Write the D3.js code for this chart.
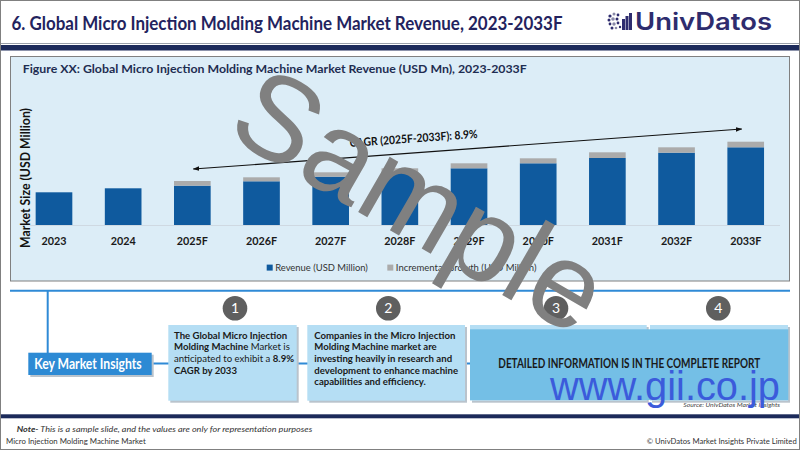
<!DOCTYPE html>
<html>
<head>
<meta charset="utf-8">
<script src="https://cdn.jsdelivr.net/npm/d3@7"></script>
<style>
  html, body { margin: 0; padding: 0; background: #ffffff; }
  svg { display: block; }
</style>
</head>
<body>
<svg id="chart" width="800" height="450" font-family="Lato, 'Open Sans', sans-serif"></svg>
<script>
// ---------------- data ----------------
const categories = ["2023", "2024", "2025F", "2026F", "2027F", "2028F", "2029F", "2030F", "2031F", "2032F", "2033F"];
const revenue = [32.7, 36.7, 39.3, 43.7, 48.3, 52.5, 56.7, 61.7, 67.0, 72.3, 77.7];
const increment = [0, 0, 4.7, 4.0, 4.4, 4.2, 5.0, 5.0, 5.7, 5.4, 5.6];
const seriesNames = ["Revenue (USD Million)", "Incremental Growth (USD Million)"];
const cagrLabel = "CAGR (2025F-2033F): 8.9%";
const cagrFrom = "2025F", cagrTo = "2033F";
const headerTitle = "6. Global Micro Injection Molding Machine Market Revenue, 2023-2033F";
const figureTitle = "Figure XX: Global Micro Injection Molding Machine Market Revenue (USD Mn), 2023-2033F";
const yAxisTitle = "Market Size (USD Million)";
const insightNumbers = ["1", "2", "3", "4"];

// ---------------- setup ----------------
const svg = d3.select("#chart");
const navy = "#1c2a5a";
const blue = "#0f5a9e";
const grey = "#ababab";
const lineBlue = "#2f8ad6";
const wmFont = "'Liberation Sans', Arial, sans-serif";

svg.append("rect").attr("x", 0).attr("y", 0).attr("width", 800).attr("height", 450).attr("fill", "#fff");

// header
svg.append("text").attr("x", 11.5).attr("y", 30).attr("font-size", 19).attr("font-weight", 700)
  .attr("fill", "#23235e").attr("textLength", 551).attr("lengthAdjust", "spacingAndGlyphs").text(headerTitle);

// logo
const logo = svg.append("g").attr("transform", "translate(607,12)");
const dots = [[3,4,1.6],[7,2,1.5],[11,3,1.4],[2,8,1.5],[6,7,1.8],[10,7,1.5],[3,12,1.4],[7,12,1.7],[11,11,1.4],[5,16,1.5],[9,16,1.3],[13,15,1.2]];
logo.selectAll("circle").data(dots).join("circle")
  .attr("cx", d => d[0]).attr("cy", d => d[1]).attr("r", d => d[2])
  .attr("fill", (d, i) => i % 3 === 1 ? "#8a8aa8" : "#2e2c6e");
const bars = [[15,7,3,11],[18.5,4,3,14],[22,1,3,17]];
logo.selectAll("rect").data(bars).join("rect")
  .attr("x", d => d[0]).attr("y", d => d[1]).attr("width", d => d[2]).attr("height", d => d[3]).attr("fill", "#2e2c6e");
svg.append("text").attr("x", 635).attr("y", 30).attr("font-family", "Inter, Roboto, sans-serif")
  .attr("font-size", 24).attr("font-weight", 600).attr("fill", "#2e2c6e")
  .attr("textLength", 137).attr("lengthAdjust", "spacingAndGlyphs").text("UnivDatos");

// header separator and navy band
svg.append("line").attr("x1", 0).attr("x2", 800).attr("y1", 43.5).attr("y2", 43.5).attr("stroke", "#9aa0aa").attr("stroke-width", 1);
svg.append("rect").attr("x", 0).attr("y", 45).attr("width", 800).attr("height", 5.5).attr("fill", navy);

// chart panel
svg.append("rect").attr("x", 10.5).attr("y", 56.5).attr("width", 779).attr("height", 224.5)
  .attr("fill", "#dcedf7").attr("stroke", "#808080").attr("stroke-width", 1);
svg.append("text").attr("x", 22.7).attr("y", 72.7).attr("font-size", 11.5).attr("font-weight", 700)
  .attr("fill", "#1f2d52").attr("textLength", 504).attr("lengthAdjust", "spacingAndGlyphs").text(figureTitle);

// scales
const x = d3.scaleBand().domain(categories).range([19.4, 780.3]).paddingInner(0.47).paddingOuter(0.235);
const y = d3.scaleLinear().domain([0, 100]).range([225, 125]);

const rows = categories.map((c, i) => ({ cat: c, revenue: revenue[i], increment: increment[i] }));
const stack = d3.stack().keys(["revenue", "increment"]);
const layers = stack(rows);
const colors = [blue, grey];

const plot = svg.append("g");
plot.append("line").attr("x1", 30).attr("x2", 780).attr("y1", y(0) + 0.5).attr("y2", y(0) + 0.5)
  .attr("stroke", "#cfd9e2").attr("stroke-width", 1);

plot.selectAll("g.layer").data(layers).join("g").attr("class", "layer")
  .attr("fill", (d, i) => colors[i])
  .selectAll("rect").data(d => d).join("rect")
  .attr("x", d => x(d.data.cat))
  .attr("y", d => y(d[1]))
  .attr("width", x.bandwidth())
  .attr("height", d => Math.max(0, y(d[0]) - y(d[1])));

// x axis labels
const xAxis = d3.axisBottom(x).tickSize(0).tickPadding(0);
const xg = plot.append("g").attr("transform", `translate(0,${y(0)})`).call(xAxis);
xg.select(".domain").remove();
xg.attr("font-family", null).attr("font-size", null);
xg.selectAll("text").attr("font-size", 10.8).attr("font-weight", 700)
  .attr("fill", "#1a1a1a").attr("dy", null).attr("y", 20);

// y axis title
svg.append("text").attr("transform", "translate(29.5,178) rotate(-90)").attr("text-anchor", "middle")
  .attr("font-size", 13).attr("font-weight", 700).attr("fill", "#111")
  .attr("textLength", 140).attr("lengthAdjust", "spacingAndGlyphs").text(yAxisTitle);

// legend
const legendPos = [[266.7, 92.7], [387.3, 140.7]];
const lg = svg.append("g");
seriesNames.forEach((name, i) => {
  lg.append("rect").attr("x", legendPos[i][0]).attr("y", 264.6).attr("width", 6).attr("height", 6).attr("fill", colors[i]);
  lg.append("text").attr("x", legendPos[i][0] + 8.5).attr("y", 271.3).attr("font-size", 10).attr("fill", "#333")
    .attr("textLength", legendPos[i][1]).attr("lengthAdjust", "spacingAndGlyphs").text(name);
});

// CAGR arrow
const defs = svg.append("defs");
defs.append("marker").attr("id", "ah").attr("viewBox", "0 0 10 10").attr("refX", 9).attr("refY", 5)
  .attr("markerWidth", 6).attr("markerHeight", 6).attr("orient", "auto-start-reverse")
  .append("path").attr("d", "M0,1.5 L10,5 L0,8.5 Z").attr("fill", "#111");
const ax1 = x(cagrFrom) + x.bandwidth() / 2 + 1, ay1 = y(56);
const ax2 = x(cagrTo) + x.bandwidth() / 2 - 4, ay2 = y(96);
svg.append("line").attr("x1", ax1).attr("y1", ay1).attr("x2", ax2).attr("y2", ay2)
  .attr("stroke", "#111").attr("stroke-width", 1.1)
  .attr("marker-start", "url(#ah)").attr("marker-end", "url(#ah)");
const slope = (ay2 - ay1) / (ax2 - ax1);
const angle = Math.atan(slope) * 180 / Math.PI;
const tx = 350, ty = ay1 + slope * (tx - ax1) - 10.5;
svg.append("text").attr("transform", `translate(${tx},${ty}) rotate(${angle})`)
  .attr("font-size", 11.5).attr("font-weight", 700).attr("fill", "#111")
  .attr("textLength", 128).attr("lengthAdjust", "spacingAndGlyphs").text(cagrLabel);

// ---------------- insights section ----------------
const ins = svg.append("g");
ins.append("line").attr("x1", 10).attr("x2", 790).attr("y1", 290.7).attr("y2", 290.7).attr("stroke", lineBlue).attr("stroke-width", 2);
ins.append("line").attr("x1", 47.7).attr("x2", 47.7).attr("y1", 290.7).attr("y2", 353).attr("stroke", lineBlue).attr("stroke-width", 2);
ins.append("line").attr("x1", 150).attr("x2", 470).attr("y1", 363.5).attr("y2", 363.5).attr("stroke", lineBlue).attr("stroke-width", 2);

function box(x0, y0, w, h, fill) {
  ins.append("rect").attr("x", x0 + 2).attr("y", y0 + 2).attr("width", w).attr("height", h).attr("fill", "#b9c3cc");
  ins.append("rect").attr("x", x0).attr("y", y0).attr("width", w).attr("height", h).attr("fill", fill);
}
box(28.3, 352.7, 123.4, 22.3, "#2d8ad4");
ins.append("text").attr("x", 34.3).attr("y", 369.3).attr("font-size", 15).attr("font-weight", 700).attr("fill", "#fff")
  .attr("textLength", 107.4).attr("lengthAdjust", "spacingAndGlyphs").text("Key Market Insights");

box(168.3, 325, 128.4, 75.7, "#b5def4");
box(307.3, 325, 157.7, 75.7, "#b5def4");
box(470, 325, 176.7, 75.7, "#b5def4");
box(650, 325, 138, 75.7, "#b5def4");
ins.append("rect").attr("x", 470).attr("y", 329.3).attr("width", 318.3).attr("height", 70.7).attr("fill", "#74bfe6");

const circleX = [235, 388.3, 556, 718.3];
insightNumbers.forEach((n, i) => {
  ins.append("circle").attr("cx", circleX[i]).attr("cy", 308.3).attr("r", 12.3).attr("fill", "#5f5f5f");
  ins.append("text").attr("x", circleX[i]).attr("y", 313.3).attr("text-anchor", "middle")
    .attr("font-size", 14).attr("fill", "#fff").text(n);
});

// box 1 text
const b1 = [
  [["The Global Micro Injection", 700]],
  [["Molding Machine", 700], [" Market is", 400]],
  [["anticipated to exhibit a ", 400], ["8.9%", 700]],
  [["CAGR by 2033", 700]]
];
b1.forEach((line, i) => {
  const t = ins.append("text").attr("x", 174).attr("y", 338.5 + i * 11.7).attr("font-size", 9.6).attr("fill", "#1a1a1a");
  line.forEach(seg => t.append("tspan").attr("font-weight", seg[1]).text(seg[0]));
});
const b2 = ["Companies in the Micro Injection", "Molding Machine market are", "investing heavily in research and", "development to enhance machine", "capabilities and efficiency."];
b2.forEach((line, i) => {
  ins.append("text").attr("x", 314.3).attr("y", 338.5 + i * 11.7).attr("font-size", 9.6).attr("font-weight", 700)
    .attr("fill", "#1a1a1a").text(line);
});
ins.append("text").attr("x", 498.3).attr("y", 368.3).attr("font-size", 12.3).attr("font-weight", 700).attr("fill", "#1a1a1a")
  .attr("textLength", 262).attr("lengthAdjust", "spacingAndGlyphs").text("DETAILED INFORMATION IS IN THE COMPLETE REPORT");

ins.append("text").attr("x", 780).attr("y", 406.5).attr("text-anchor", "end").attr("font-size", 6.5).attr("font-style", "italic")
  .attr("fill", "#444").attr("textLength", 96.7).attr("lengthAdjust", "spacingAndGlyphs").text("Source: UnivDatos Market Insights");

// bottom band + footer
svg.append("rect").attr("x", 0).attr("y", 414.3).attr("width", 800).attr("height", 4).attr("fill", navy);
const note = svg.append("text").attr("x", 16.7).attr("y", 431.7).attr("font-size", 8.3).attr("font-style", "italic").attr("fill", "#333")
  .attr("textLength", 295.6).attr("lengthAdjust", "spacingAndGlyphs");
note.append("tspan").attr("font-weight", 700).text("Note-");
note.append("tspan").text(" This is a sample slide, and the values are only for representation purposes");
svg.append("text").attr("x", 6).attr("y", 444).attr("font-size", 7.6).attr("fill", "#333")
  .attr("textLength", 139.7).attr("lengthAdjust", "spacingAndGlyphs").text("Micro Injection Molding Machine Market");
svg.append("text").attr("x", 796.7).attr("y", 444).attr("text-anchor", "end").attr("font-size", 7.6).attr("fill", "#333")
  .attr("textLength", 150).attr("lengthAdjust", "spacingAndGlyphs").text("© UnivDatos Market Insights Private Limited");

// watermarks
svg.append("text").attr("transform", "translate(400,236) rotate(30)").attr("text-anchor", "middle")
  .attr("font-family", wmFont).attr("font-size", 120).attr("fill", "#808080").text("Sample");
svg.append("text").attr("x", 550).attr("y", 400).attr("font-family", wmFont)
  .attr("font-size", 41).attr("fill", "#3b5bdb").attr("textLength", 230).attr("lengthAdjust", "spacingAndGlyphs").text("www.gii.co.jp");

// frame
svg.append("rect").attr("x", 0.5).attr("y", 0.5).attr("width", 799).attr("height", 449).attr("fill", "none").attr("stroke", "#808080");
</script>
</body>
</html>
